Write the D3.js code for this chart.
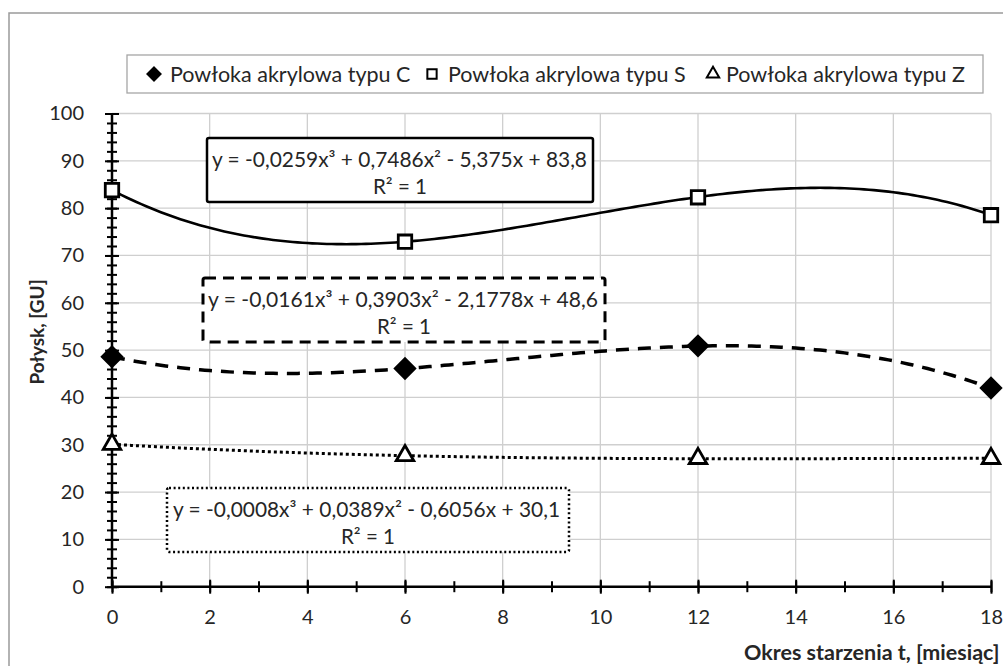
<!DOCTYPE html>
<html><head><meta charset="utf-8">
<script src="https://cdn.jsdelivr.net/npm/d3@7"></script>
<style>
body{margin:0;background:#fff;overflow:hidden}
svg{display:block;font-family:Lato,"Open Sans",sans-serif}
</style>
</head><body>
<svg id="chart" width="1003" height="666"></svg>
<script>
// ---- data ----
const months = [0, 6, 12, 18];
const seriesNames = ["Powłoka akrylowa typu C", "Powłoka akrylowa typu S", "Powłoka akrylowa typu Z"];
const valuesC = [48.6, 46.1, 50.9, 42.0];
const valuesS = [83.8, 72.9, 82.3, 78.5];
const valuesZ = [30.1, 27.7, 27.1, 27.1];
// trendline coefficients (a0 + a1 x + a2 x^2 + a3 x^3), as printed on the chart
const trendC = [48.6, -2.1778, 0.3903, -0.0161];
const trendS = [83.8, -5.375, 0.7486, -0.0259];
const trendZ = [30.1, -0.6056, 0.0389, -0.0008];
const eqTextC = ["y = -0,0161x³ + 0,3903x² - 2,1778x + 48,6", "R² = 1"];
const eqTextS = ["y = -0,0259x³ + 0,7486x² - 5,375x + 83,8", "R² = 1"];
const eqTextZ = ["y = -0,0008x³ + 0,0389x² - 0,6056x + 30,1", "R² = 1"];
const xTickValues = [0, 2, 4, 6, 8, 10, 12, 14, 16, 18];
const yTickValues = [0, 10, 20, 30, 40, 50, 60, 70, 80, 90, 100];
const xMinorValues = d3.range(0, 19, 1);
const yMinorValues = d3.range(0, 101, 2);
const xTitle = "Okres starzenia t, [miesiąc]";
const yTitle = "Połysk, [GU]";

// ---- layout ----
const svg = d3.select("#chart");
const X0 = 112, X1 = 991, Y0 = 586.7, Y1 = 113.5;
const x = d3.scaleLinear().domain([0, 18]).range([X0, X1]);
const y = d3.scaleLinear().domain([0, 100]).range([Y0, Y1]);
const textColor = "#262626";

// outer chart border
svg.append("rect").attr("x", 9).attr("y", 13).attr("width", 1200).attr("height", 800)
  .attr("fill", "#fff").attr("stroke", "#9a9a9a").attr("stroke-width", 1.5);

// gridlines
const grid = svg.append("g").attr("stroke", "#cfcfcf").attr("stroke-width", 1.3);
grid.selectAll(".gx").data(xTickValues.filter(d => d > 0)).join("line")
  .attr("x1", d => x(d)).attr("x2", d => x(d)).attr("y1", y(0)).attr("y2", y(100));
grid.selectAll(".gy").data(yTickValues.filter(d => d > 0)).join("line")
  .attr("x1", x(0)).attr("x2", x(18)).attr("y1", d => y(d)).attr("y2", d => y(d));

// legend
const leg = svg.append("g");
leg.append("rect").attr("x", 127).attr("y", 55).attr("width", 856).attr("height", 38)
  .attr("fill", "#fff").attr("stroke", "#a6a6a6").attr("stroke-width", 1.3);
const legItems = [
  {name: seriesNames[0], sym: d3.symbolDiamond2, fill: "#000", mx: 154, tx: 170},
  {name: seriesNames[1], sym: d3.symbolSquare2, fill: "#fff", mx: 432, tx: 448},
  {name: seriesNames[2], sym: d3.symbolTriangle2, fill: "#fff", mx: 713, tx: 726}
];
legItems.forEach(it => {
  leg.append("path").attr("d", d3.symbol(it.sym, 110)())
    .attr("transform", `translate(${it.mx},74)`)
    .attr("fill", it.fill).attr("stroke", "#000").attr("stroke-width", 2);
  leg.append("text").attr("x", it.tx).attr("y", 74).attr("dy", "0.35em")
    .attr("font-size", 21.5).attr("fill", textColor).text(it.name);
});

// axes
const yAxis = svg.append("g").attr("transform", `translate(${X0},0)`)
  .call(d3.axisLeft(y).tickValues(yTickValues).tickSize(7).tickPadding(21));
yAxis.select(".domain").remove();
yAxis.selectAll(".tick line").attr("x1", 7).attr("x2", -7).attr("stroke", "#000").attr("stroke-width", 2);
yAxis.selectAll(".tick text").attr("font-size", 20).attr("font-family", "Lato").attr("fill", textColor);
const yMinor = svg.append("g").attr("transform", `translate(${X0},0)`)
  .call(d3.axisLeft(y).tickValues(yMinorValues).tickSize(5).tickFormat(""));
yMinor.select(".domain").remove();
yMinor.selectAll(".tick line").attr("x1", 5).attr("x2", -5).attr("stroke", "#000").attr("stroke-width", 2);

const xAxis = svg.append("g").attr("transform", `translate(0,${Y0})`)
  .call(d3.axisBottom(x).tickValues(xTickValues).tickSize(7).tickPadding(16));
xAxis.select(".domain").remove();
xAxis.selectAll(".tick line").attr("y1", -7).attr("y2", 7).attr("stroke", "#000").attr("stroke-width", 2);
xAxis.selectAll(".tick text").attr("font-size", 20).attr("font-family", "Lato").attr("fill", textColor);
const xMinor = svg.append("g").attr("transform", `translate(0,${Y0})`)
  .call(d3.axisBottom(x).tickValues(xMinorValues).tickSize(5).tickFormat(""));
xMinor.select(".domain").remove();
xMinor.selectAll(".tick line").attr("y1", -5.5).attr("y2", 5.5).attr("stroke", "#000").attr("stroke-width", 2);

svg.append("line").attr("x1", X0).attr("x2", X0).attr("y1", y(0)).attr("y2", y(100))
  .attr("stroke", "#000").attr("stroke-width", 2.5);
svg.append("line").attr("x1", X0).attr("x2", X1).attr("y1", Y0).attr("y2", Y0)
  .attr("stroke", "#000").attr("stroke-width", 2.5);

// axis titles
svg.append("text").attr("transform", `translate(37,${(277 + 387) / 2}) rotate(-90)`)
  .attr("text-anchor", "middle").attr("dy", "0.35em").attr("font-weight", "bold")
  .attr("font-size", 19).attr("fill", textColor).text(yTitle);
svg.append("text").attr("x", 744).attr("y", 652).attr("dy", "0.35em").attr("font-weight", "bold")
  .attr("font-size", 21.5).attr("fill", textColor).text(xTitle);

// equation boxes
function eqBox(lines, bx, by, bw, bh, dash, sw, textX, textW) {
  const g = svg.append("g");
  g.append("rect").attr("x", bx).attr("y", by).attr("width", bw).attr("height", bh)
    .attr("rx", 2).attr("fill", "#fff").attr("stroke", "#000").attr("stroke-width", sw)
    .attr("stroke-dasharray", dash);
  g.append("text").attr("x", textX).attr("y", by + bh * 0.34).attr("dy", "0.35em")
    .attr("font-size", 20.5).attr("fill", textColor)
    .attr("textLength", textW).attr("lengthAdjust", "spacingAndGlyphs").text(lines[0]);
  g.append("text").attr("x", bx + bw / 2).attr("y", by + bh * 0.76).attr("dy", "0.35em")
    .attr("text-anchor", "middle").attr("font-size", 20.5).attr("fill", textColor).text(lines[1]);
}
eqBox(eqTextS, 207, 138, 386, 64, null, 2.5, 212, 375);
eqBox(eqTextC, 203, 278, 402, 64, "11,7", 3, 208, 390);
eqBox(eqTextZ, 167, 488, 402, 64, "2,2.6", 2.5, 173, 387);

// trendlines
const poly = c => t => c[0] + c[1] * t + c[2] * t * t + c[3] * t * t * t;
const samples = d3.range(0, 18.001, 0.1);
const line = d3.line().x(d => x(d[0])).y(d => y(d[1])).curve(d3.curveLinear);
function trend(c, dash, w) {
  const f = poly(c);
  svg.append("path").attr("d", line(samples.map(t => [t, f(t)])))
    .attr("fill", "none").attr("stroke", "#000").attr("stroke-width", w)
    .attr("stroke-dasharray", dash);
}
trend(trendS, null, 2.6);
trend(trendC, "13,9", 3.5);
trend(trendZ, "3,3", 3);

// markers
function markers(vals, sym, size, fill) {
  svg.append("g").selectAll("path").data(months.map((m, i) => [m, vals[i]])).join("path")
    .attr("d", d3.symbol(sym, size)())
    .attr("transform", d => `translate(${x(d[0])},${y(d[1])})`)
    .attr("fill", fill).attr("stroke", "#000").attr("stroke-width", 2.8);
}
markers(valuesS, d3.symbolSquare2, 230, "#fff");
markers(valuesC, d3.symbolDiamond2, 240, "#000");
markers(valuesZ, d3.symbolTriangle2, 220, "#fff");
</script>
</body></html>
